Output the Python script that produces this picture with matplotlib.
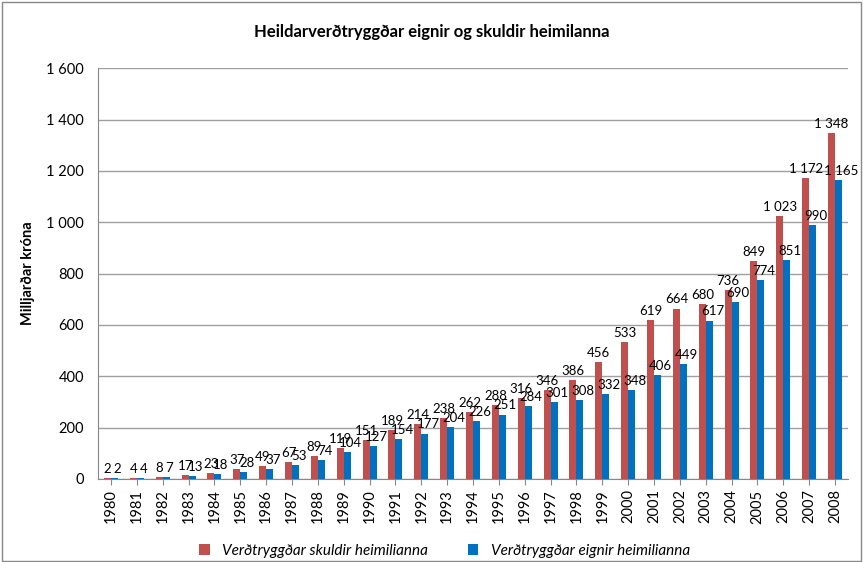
import matplotlib
matplotlib.use("Agg")
import matplotlib.pyplot as plt
import numpy as np

plt.rcParams['font.family'] = ['Lato', 'DejaVu Sans']

years = [str(y) for y in range(1980, 2009)]
skuldir = [2, 4, 8, 17, 23, 37, 49, 67, 89, 119, 151, 189, 214, 238, 262, 288, 316,
           346, 386, 456, 533, 619, 664, 680, 736, 849, 1023, 1172, 1348]
eignir = [2, 4, 7, 13, 18, 28, 37, 53, 74, 104, 127, 154, 177, 204, 226, 251, 284,
          301, 308, 332, 348, 406, 449, 617, 690, 774, 851, 990, 1165]
yticks = [0, 200, 400, 600, 800, 1000, 1200, 1400, 1600]

def fmt(v):
    return f"{v:,}".replace(",", " ")

fig = plt.figure(figsize=(8.63, 5.62), dpi=100)
ax = fig.add_axes([0.1136, 0.1477, 0.869, 0.731])

x = np.arange(len(years))
w = 0.27
red = '#C0504D'
blue = '#0070C0'
ax.bar(x - w/2, skuldir, w, color=red, label='Verðtryggðar skuldir heimilianna', zorder=3)
ax.bar(x + w/2, eignir, w, color=blue, label='Verðtryggðar eignir heimilianna', zorder=3)

for xi, v in zip(x, skuldir):
    ax.text(xi - w/2, v + 12, fmt(v), ha='center', va='bottom', fontsize=9.5, zorder=4)
for xi, v in zip(x, eignir):
    ax.text(xi + w/2 + 0.12, v + 12, fmt(v), ha='center', va='bottom', fontsize=9.5, zorder=4)

ax.set_xlim(-0.5, len(years) - 0.5)
ax.set_ylim(0, 1600)
ax.set_yticks(yticks)
ax.set_yticklabels([fmt(t) for t in yticks], fontsize=10.5)
ax.set_xticks(x)
ax.set_xticklabels(years, rotation=90, fontsize=10.5)
ax.tick_params(axis='y', length=0, pad=10)
ax.tick_params(axis='x', length=4, color='#888888')
ax.grid(axis='y', color='#A0A0A0', linewidth=1, zorder=0)
for s in ['top', 'right']:
    ax.spines[s].set_visible(False)
for s in ['left', 'bottom']:
    ax.spines[s].set_color('#888888')
ax.set_ylabel('Milljarðar króna', fontsize=10.5, fontweight='bold', labelpad=8)

fig.text(0.5, 0.943, 'Heildarverðtryggðar eignir og skuldir heimilanna',
         ha='center', va='center', fontsize=12, fontweight='bold')

fig.legend(loc='center', bbox_to_anchor=(0.515, 0.02), ncol=2, frameon=False,
           prop={'style': 'italic', 'size': 11}, handlelength=0.7, handleheight=0.7,
           columnspacing=2.6)

fig.patches.append(plt.Rectangle((0.002, 0.002), 0.996, 0.995, transform=fig.transFigure,
                                 fill=False, edgecolor='#888888', linewidth=1))

fig.savefig('out.png', dpi=100)
